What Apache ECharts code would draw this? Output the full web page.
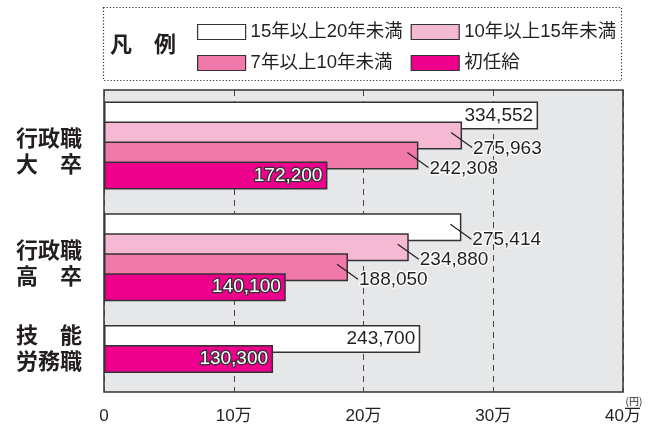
<!DOCTYPE html>
<html>
<head>
<meta charset="utf-8">
<script src="https://cdn.jsdelivr.net/npm/echarts@6/dist/echarts.min.js"></script>
<style>
  html, body { margin: 0; padding: 0; background: #ffffff; }
  #chart { width: 651px; height: 425px; }
</style>
</head>
<body>
<div id="chart"></div>
<script>
// ---- data ----
const categories = ['行政職\n大　卒', '行政職\n高　卒', '技　能\n労務職'];
const seriesNames = ['15年以上20年未満', '10年以上15年未満', '7年以上10年未満', '初任給'];
const years15to20 = [334552, 275414, 243700];
const years10to15 = [275963, 234880, null];
const years7to10 = [242308, 188050, null];
const startingPay = [172200, 140100, 130300];
const xTickLabels = ['0', '10万', '20万', '30万', '40万'];
// which value labels sit outside the bar with a leader line [series][category]
const outsideLabel = [
  [false, true, false],
  [true, true, false],
  [true, true, false],
  [false, false, false]
];

// ---- style ----
const colors = ['#ffffff', '#f6b9d3', '#f079aa', '#ec008c'];
const BAR_W = 28, SLOT = 20;
const numFont = '"Liberation Sans", Arial, sans-serif';
const jpFont = '"Liberation Sans", "Noto Sans CJK JP", sans-serif';
const ink = '#231f20';
const fmt = v => v.toLocaleString('en-US');

const allSeries = [years15to20, years10to15, years7to10, startingPay];

// assign each category's existing bars to consecutive slots
const slotData = [[], [], [], []];
const leaderData = [];
categories.forEach((c, ci) => {
  let slot = 0;
  allSeries.forEach((arr, si) => {
    const v = arr[ci];
    if (v == null) return;
    const outside = outsideLabel[si][ci];
    const isMagenta = si === 3;
    slotData[slot][ci] = {
      value: v,
      itemStyle: { color: colors[si] },
      label: {
        show: !outside,
        position: 'insideRight',
        distance: 5,
        formatter: fmt(v),
        fontFamily: numFont,
        fontSize: 19,
        color: isMagenta ? '#ffffff' : ink,
        textBorderColor: isMagenta ? '#333333' : 'transparent',
        textBorderWidth: isMagenta ? 2.5 : 0
      }
    };
    if (outside) leaderData.push([v, ci, slot]);
    slot++;
  });
  for (; slot < 4; slot++) slotData[slot][ci] = null;
});

const barSeries = slotData.map((d, s) => ({
  name: seriesNames[s],
  type: 'bar',
  xAxisIndex: 0,
  yAxisIndex: 0,
  barWidth: BAR_W,
  barGap: (-(BAR_W - SLOT) / BAR_W * 100).toFixed(2) + '%',
  itemStyle: { color: colors[s], borderColor: '#333333', borderWidth: 1.5 },
  data: d,
  z: 2
}));

const leaderSeries = {
  type: 'custom',
  name: 'leader',
  xAxisIndex: 0,
  yAxisIndex: 0,
  z: 5,
  silent: true,
  data: leaderData,
  renderItem(params, api) {
    const v = api.value(0), c = api.value(1), slot = api.value(2);
    const p = api.coord([v, c]);
    const y = p[1] + (slot - 1.5) * SLOT;
    return {
      type: 'group',
      children: [
        { type: 'line', shape: { x1: p[0] - 11, y1: y - 3, x2: p[0] + 10, y2: y + 12 },
          style: { stroke: ink, lineWidth: 1.2 } },
        { type: 'text', x: p[0] + 11, y: y + 13,
          style: { text: fmt(v), fill: ink, font: '19px ' + numFont,
                   align: 'left', verticalAlign: 'middle',
                   stroke: '#ffffff', lineWidth: 2.5, strokeFirst: true } }
      ]
    };
  }
};

const chart = echarts.init(document.getElementById('chart'), null, { renderer: 'canvas' });
chart.setOption({
  animation: false,
  backgroundColor: '#ffffff',
  textStyle: { fontFamily: jpFont },
  legend: {
    data: seriesNames,
    left: 192,
    top: 14,
    width: 425,
    orient: 'horizontal',
    itemWidth: 48,
    itemHeight: 15,
    itemGap: 5,
    icon: 'rect',
    selectedMode: false,
    itemStyle: { borderColor: '#333333', borderWidth: 1.2 },
    textStyle: { fontFamily: jpFont, fontSize: 18.5, color: ink, width: 155, lineHeight: 26 }
  },
  graphic: [
    { type: 'rect', shape: { x: 103.5, y: 7.5, width: 518, height: 73 },
      style: { fill: 'none', stroke: '#333333', lineWidth: 1.2, lineDash: [1.2, 2] }, z: 10 },
    { type: 'text', x: 110, y: 44,
      style: { text: '凡　例', font: 'bold 22px "Noto Sans CJK JP"', fill: ink, verticalAlign: 'middle' }, z: 10 },
    { type: 'text', x: 634, y: 401,
      style: { text: '(円)', font: '10px "Noto Sans CJK JP"', fill: ink, align: 'center', verticalAlign: 'middle' }, z: 10 }
  ],
  grid: [
    { left: 104, top: 89.5, width: 519, height: 345, show: false },
    { left: 104, top: 90, width: 519, height: 303, show: true,
      backgroundColor: '#e6e7e8', borderColor: '#333333', borderWidth: 1.5 }
  ],
  xAxis: [
    { gridIndex: 0, type: 'value', min: 0, max: 400000, show: false },
    { gridIndex: 1, type: 'value', min: 0, max: 400000, interval: 100000,
      axisLine: { show: false }, axisTick: { show: false },
      splitLine: { show: true, lineStyle: { color: '#444444', type: [6, 5], width: 1 } },
      axisLabel: { margin: 16, fontSize: 17, color: ink, fontFamily: jpFont,
                   formatter: v => xTickLabels[Math.round(v / 100000)] } }
  ],
  yAxis: [
    { gridIndex: 0, type: 'category', inverse: true,
      data: categories,
      axisLine: { show: false }, axisTick: { show: false }, splitLine: { show: false },
      axisLabel: { margin: 22, fontSize: 22, lineHeight: 26, color: ink,
                   fontWeight: 'bold', fontFamily: '"Noto Sans CJK JP", sans-serif',
                   formatter: (v, i) => i === 2 ? v + '\n{s2| }' : '{s1| }\n' + v,
                   rich: { s1: { fontSize: 8, lineHeight: 10 }, s2: { fontSize: 8, lineHeight: 43 } } } },
    { gridIndex: 1, type: 'value', show: false, min: 0, max: 1 }
  ],
  series: [...barSeries, leaderSeries]
});
</script>
</body>
</html>
